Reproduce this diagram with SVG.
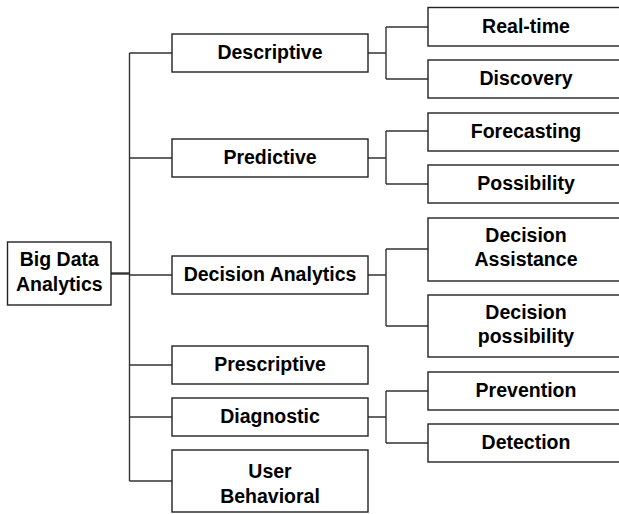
<svg xmlns="http://www.w3.org/2000/svg" width="619" height="514" viewBox="0 0 619 514">
<style>
.box{fill:#fff;stroke:#222;stroke-width:1.4}
.lbl{font-family:"Liberation Sans",Arial,Helvetica,sans-serif;font-weight:bold;font-size:19.5px;fill:#000;text-anchor:middle}
.con{fill:none;stroke:#333;stroke-width:1.4}
</style>
<rect width="619" height="514" fill="#fff"/>
<g id="connectors">
<path class="con" d="M111,273.5 H129.5" style="stroke-width:2.4"/>
<path class="con" d="M129.5,53 V481"/>
<path class="con" d="M129.5,53 H172 M129.5,158 H172 M129.5,275 H172 M129.5,365 H172 M129.5,417 H172 M129.5,481 H172"/>
<path class="con" d="M368,53 H386 M386,27 V79 M386,27 H428 M386,79 H428"/>
<path class="con" d="M368,158 H386 M386,131 V184 M386,131 H428 M386,184 H428"/>
<path class="con" d="M368,275 H386 M386,249 V326 M386,249 H428 M386,326 H428"/>
<path class="con" d="M368,417 H386 M386,391 V443 M386,391 H428 M386,443 H428"/>
</g>
<g id="root"><rect class="box" x="7.5" y="242" width="103.5" height="63"/><text class="lbl" x="59.3" y="266">Big Data</text><text class="lbl" x="59.3" y="290.5">Analytics</text></g>
<g id="descriptive"><rect class="box" x="172" y="34" width="196" height="38"/><text class="lbl" x="270" y="59">Descriptive</text></g>
<g id="predictive"><rect class="box" x="172" y="139" width="196" height="38"/><text class="lbl" x="270" y="164">Predictive</text></g>
<g id="decision-analytics"><rect class="box" x="172" y="256" width="196" height="38"/><text class="lbl" x="270" y="281">Decision Analytics</text></g>
<g id="prescriptive"><rect class="box" x="172" y="346" width="196" height="38"/><text class="lbl" x="270" y="371">Prescriptive</text></g>
<g id="diagnostic"><rect class="box" x="172" y="398" width="196" height="38"/><text class="lbl" x="270" y="423">Diagnostic</text></g>
<g id="user-behavioral"><rect class="box" x="172" y="450" width="196" height="62"/><text class="lbl" x="270" y="477.5">User</text><text class="lbl" x="270" y="503">Behavioral</text></g>
<g id="real-time"><rect class="box" x="428" y="7.5" width="200" height="38.5"/><text class="lbl" x="526" y="32.5">Real-time</text></g>
<g id="discovery"><rect class="box" x="428" y="60" width="200" height="38"/><text class="lbl" x="526" y="85">Discovery</text></g>
<g id="forecasting"><rect class="box" x="428" y="113" width="200" height="38"/><text class="lbl" x="526" y="137.5">Forecasting</text></g>
<g id="possibility"><rect class="box" x="428" y="165" width="200" height="38"/><text class="lbl" x="526" y="190">Possibility</text></g>
<g id="decision-assistance"><rect class="box" x="428" y="218" width="200" height="63"/><text class="lbl" x="526" y="241.5">Decision</text><text class="lbl" x="526" y="266">Assistance</text></g>
<g id="decision-possibility"><rect class="box" x="428" y="295" width="200" height="62"/><text class="lbl" x="526" y="319">Decision</text><text class="lbl" x="526" y="343">possibility</text></g>
<g id="prevention"><rect class="box" x="428" y="372" width="200" height="38"/><text class="lbl" x="526" y="397">Prevention</text></g>
<g id="detection"><rect class="box" x="428" y="424" width="200" height="38"/><text class="lbl" x="526" y="449">Detection</text></g>
</svg>
